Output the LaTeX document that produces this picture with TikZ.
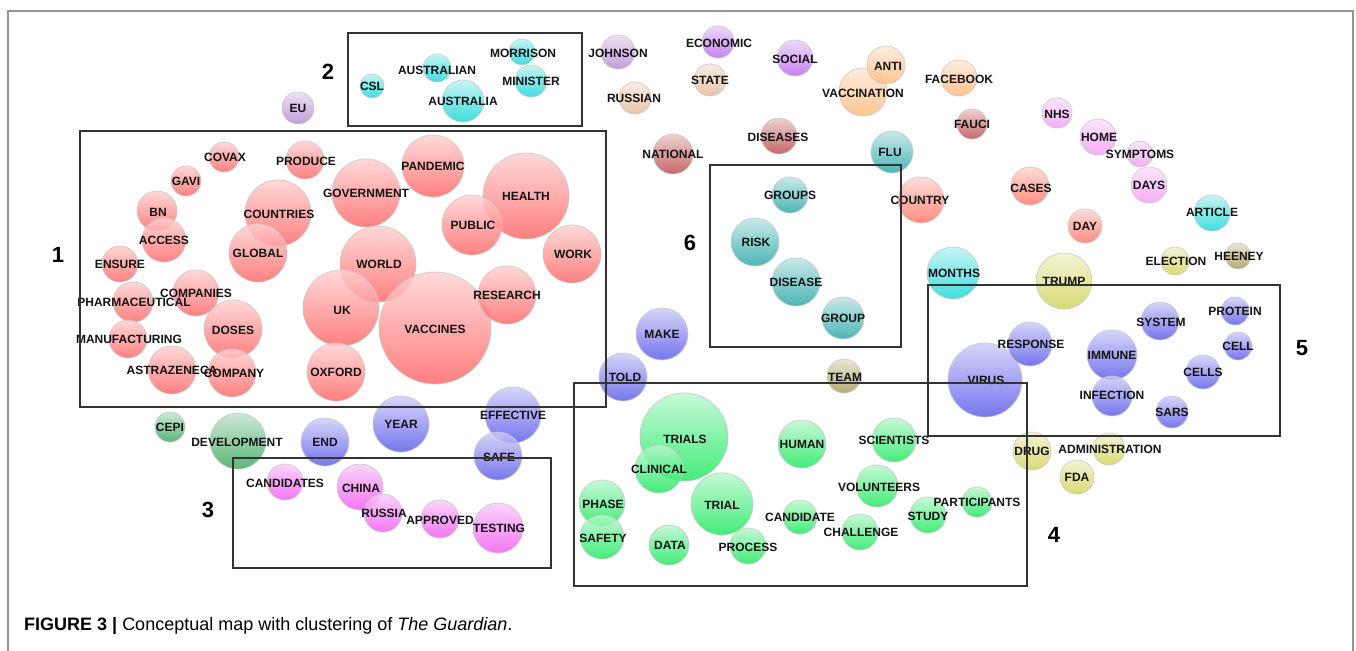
\documentclass[tikz,border=0pt]{standalone}
\usepackage{fontspec}
\setmainfont{Liberation Sans}
\definecolor{cRed}{HTML}{FF6464}
\definecolor{cCyan}{HTML}{18D6D6}
\definecolor{cTeal}{HTML}{26A6A6}
\definecolor{cBlue}{HTML}{5858EA}
\definecolor{cGreen}{HTML}{1AE85C}
\definecolor{cDGreen}{HTML}{38A65A}
\definecolor{cPink}{HTML}{F258F2}
\definecolor{cLPink}{HTML}{F29CF2}
\definecolor{cYellow}{HTML}{D2D258}
\definecolor{cOlive}{HTML}{A49A56}
\definecolor{cPeach}{HTML}{E4B896}
\definecolor{cOrange}{HTML}{FFB87A}
\definecolor{cDRed}{HTML}{BC4646}
\definecolor{cSalmon}{HTML}{FF7464}
\definecolor{cViolet}{HTML}{BC66EE}
\definecolor{cLViolet}{HTML}{B688D0}
\begin{document}
\begin{tikzpicture}[x=1pt,y=-1pt,
  bubble/.style={circle, inner sep=0pt, draw=black!22, line width=0.8pt, fill opacity=0.82, draw opacity=0.8, shading angle=45},
  lbl/.style={inner sep=0pt, font=\bfseries\fontsize{12}{12}\selectfont, text=black!92},
  num/.style={inner sep=0pt, font=\bfseries\fontsize{22}{22}\selectfont},
  clbox/.style={draw=black!80, line width=1.4pt},
  frame/.style={draw=black!42, line width=1.5pt}]
\fill[white] (0,0) rectangle (1356,650);
\useasboundingbox (0,0) rectangle (1356,650);
\def\bubblelist{%
224/157/15/cRed/COVAX/1/0,
305/160/19/cRed/PRODUCE/1/1,
186/181/15/cRed/GAVI/0/0,
157/211/20/cRed/BN/1/1,
278/213/33/cRed/COUNTRIES/1/1,
366/193/34/cRed/GOVERNMENT/0/0,
433/166/31/cRed/PANDEMIC/0/0,
526/196/43/cRed/HEALTH/0/0,
164/240/22/cRed/ACCESS/0/0,
120/264/18/cRed/ENSURE/0/0,
258/253/29/cRed/GLOBAL/0/0,
378/264/38/cRed/WORLD/1/0,
472/225/30/cRed/PUBLIC/1/0,
572/254/29/cRed/WORK/1/0,
196/293/23/cRed/COMPANIES/0/0,
133/302/20/cRed/PHARMACEUTICAL/1/0,
341/308/38/cRed/UK/1/2,
435/328/56/cRed/VACCINES/0/1,
507/295/29/cRed/RESEARCH/0/0,
233/329/29/cRed/DOSES/0/1,
128/339/19/cRed/MANUFACTURING/1/0,
172/370/24/cRed/ASTRAZENECA/0/0,
232/373/24/cRed/COMPANY/2/0,
336/372/29/cRed/OXFORD/0/0,
372/86/12/cCyan/CSL/0/0,
437/68/14/cCyan/AUSTRALIAN/0/2,
463/101/21/cCyan/AUSTRALIA/0/0,
522/52/13/cCyan/MORRISON/1/1,
531/81/16/cCyan/MINISTER/0/0,
953/273/26/cCyan/MONTHS/1/0,
1212/213/18/cCyan/ARTICLE/0/-1,
892/152/21/cTeal/FLU/-2/0,
790/195/18/cTeal/GROUPS/0/0,
755/242/24/cTeal/RISK/1/0,
796/282/24/cTeal/DISEASE/0/0,
843/318/21/cTeal/GROUP/0/0,
662/334/26/cBlue/MAKE/0/0,
623/377/24/cBlue/TOLD/2/0,
513/415/28/cBlue/EFFECTIVE/0/0,
498/456/24/cBlue/SAFE/1/1,
401/424/28/cBlue/YEAR/0/0,
325/442/24/cBlue/END/0/0,
985/380/37/cBlue/VIRUS/1/0,
1030/344/22/cBlue/RESPONSE/1/0,
1112/355/25/cBlue/IMMUNE/0/0,
1160/321/19/cBlue/SYSTEM/1/1,
1235/311/14/cBlue/PROTEIN/0/0,
1238/346/14/cBlue/CELL/0/0,
1203/372/17/cBlue/CELLS/0/0,
1112/396/20/cBlue/INFECTION/0/-1,
1172/412/16/cBlue/SARS/0/0,
684/437/44/cGreen/TRIALS/1/2,
659/469/24/cGreen/CLINICAL/0/0,
802/444/24/cGreen/HUMAN/0/0,
894/440/22/cGreen/SCIENTISTS/0/0,
602/503/23/cGreen/PHASE/1/1,
602/537/22/cGreen/SAFETY/1/1,
722/504/31/cGreen/TRIAL/0/1,
669/545/20/cGreen/DATA/1/0,
748/546/18/cGreen/PROCESS/0/1,
800/517/17/cGreen/CANDIDATE/0/0,
860/532/18/cGreen/CHALLENGE/1/0,
877/486/21/cGreen/VOLUNTEERS/2/1,
928/515/18/cGreen/STUDY/0/1,
977/502/15/cGreen/PARTICIPANTS/0/0,
170/427/15/cDGreen/CEPI/0/0,
238/441/28/cDGreen/DEVELOPMENT/-1/1,
285/482/18/cPink/CANDIDATES/0/1,
360/487/23/cPink/CHINA/1/1,
383/513/19/cPink/RUSSIA/1/0,
440/519/19/cPink/APPROVED/0/1,
498/528/25/cPink/TESTING/1/0,
1057/113/15/cLPink/NHS/0/1,
1098/137/18/cLPink/HOME/1/0,
1140/154/13/cLPink/SYMPTOMS/0/0,
1149/185/18/cLPink/DAYS/0/0,
1064/281/28/cYellow/TRUMP/0/0,
1175/261/14/cYellow/ELECTION/1/0,
1032/451/19/cYellow/DRUG/0/0,
1109/449/16/cYellow/ADMINISTRATION/1/0,
1077/477/17/cYellow/FDA/0/0,
844/376/17/cOlive/TEAM/1/1,
1238/256/13/cOlive/HEENEY/1/0,
635/98/16/cPeach/RUSSIAN/-1/0,
710/80/16/cPeach/STATE/0/0,
863/92/24/cOrange/VACCINATION/0/1,
886/65/19/cOrange/ANTI/2/1,
959/78/18/cOrange/FACEBOOK/0/1,
673/154/20/cDRed/NATIONAL/0/0,
779/136/18/cDRed/DISEASES/-1/1,
972/124/15/cDRed/FAUCI/0/0,
921/200/23/cSalmon/COUNTRY/-1/0,
1030/186/19/cSalmon/CASES/1/2,
1085/226/17/cSalmon/DAY/0/0,
718/42/16/cViolet/ECONOMIC/1/1,
795/58/18/cViolet/SOCIAL/0/1,
298/108/16/cLViolet/EU/0/0,
618/52/17/cLViolet/JOHNSON/0/1}
% bubbles
\foreach \px/\py/\rad/\col/\lab/\dx/\dy in \bubblelist {
  \node[bubble, minimum size={2*\rad*1pt}, top color=\col!30!white, bottom color=\col] (c\lab) at (\px,\py) {};
}
% labels
\foreach \px/\py/\rad/\col/\lab/\dx/\dy in \bubblelist {
  \node[lbl] (\lab) at (\px+\dx,\py+\dy) {\lab};
}
% cluster boxes
\draw[clbox] (80,131) rectangle (606,407);
\draw[clbox] (348,33) rectangle (582,126);
\draw[clbox] (233,458) rectangle (551,568);
\draw[clbox] (574,383) rectangle (1027,586);
\draw[clbox] (928,285) rectangle (1280,436);
\draw[clbox] (710,165) rectangle (901,347);
% cluster numbers
\node[num] (n1) at (58,255) {1};
\node[num] (n2) at (328,72) {2};
\node[num] (n3) at (208,510) {3};
\node[num] (n4) at (1054,535) {4};
\node[num] (n5) at (1302,348) {5};
\node[num] (n6) at (690,243) {6};
% outer frame
\draw[frame] (8,670) -- (8,11) -- (1353,11) -- (1353,670);
% caption
\node[anchor=base west, inner sep=0pt, font=\fontsize{18}{18}\selectfont] (caption) at (24,630) {\textbf{FIGURE 3 |} Conceptual map with clustering of \textit{The Guardian}.};
\end{tikzpicture}
\end{document}
